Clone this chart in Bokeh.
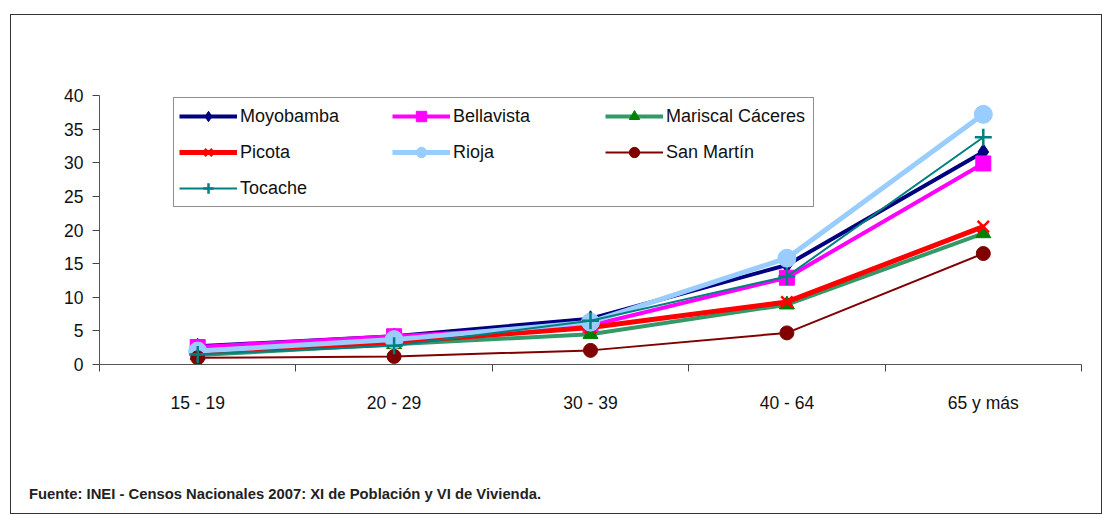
from bokeh.plotting import figure
from bokeh.models import FixedTicker, Range1d, Legend, LegendItem, Div
from bokeh.layouts import column
from bokeh.embed import file_html
from bokeh.resources import INLINE

categories = ["15 - 19", "20 - 29", "30 - 39", "40 - 64", "65 y más"]
moyobamba = [2.7, 4.2, 6.8, 14.8, 31.6]
bellavista = [2.6, 4.2, 5.8, 12.9, 29.9]
mariscal = [1.4, 3.0, 4.5, 8.9, 19.5]
picota = [1.9, 3.3, 5.5, 9.3, 20.5]
rioja = [2.0, 3.7, 6.3, 15.8, 37.2]
san_martin = [1.0, 1.2, 2.1, 4.7, 16.5]
tocache = [1.5, 2.8, 6.5, 13.1, 33.8]
y_ticks = [0, 5, 10, 15, 20, 25, 30, 35, 40]
source_note = "Fuente: INEI - Censos Nacionales 2007: XI de Población y VI de Vivienda."

FONT = "Liberation Sans"

xs = [i + 0.5 for i in range(len(categories))]

p = figure(width=1090, height=400, output_backend="svg", toolbar_location=None,
           x_range=Range1d(0, len(categories)), y_range=Range1d(0, 40),
           min_border_left=88, min_border_right=20, min_border_top=80, min_border_bottom=49)
p.margin = 0
p.outline_line_color = None
p.grid.grid_line_color = None
p.background_fill_color = "white"
p.border_fill_color = "white"

p.xaxis.ticker = FixedTicker(ticks=xs, minor_ticks=list(range(len(categories) + 1)))
p.xaxis.major_label_overrides = {x: c for x, c in zip(xs, categories)}
p.xaxis.major_tick_line_color = None
p.xaxis.minor_tick_line_color = "#444444"
p.xaxis.minor_tick_out = 7
p.xaxis.minor_tick_in = 0
p.xaxis.major_label_standoff = 21
p.xaxis.axis_line_color = "#555555"

p.yaxis.ticker = FixedTicker(ticks=y_ticks)
p.yaxis.minor_tick_line_color = None
p.yaxis.major_tick_out = 7
p.yaxis.major_tick_in = 0
p.yaxis.major_tick_line_color = "#444444"
p.yaxis.axis_line_color = "#555555"
p.yaxis.major_label_standoff = 9

for ax in (p.xaxis, p.yaxis):
    ax.major_label_text_font = FONT
    ax.major_label_text_font_size = "17.5px"
    ax.major_label_text_color = "#111111"

series = [
    ("Moyobamba", moyobamba, "#000080", 4, "diamond", 16, "#000080"),
    ("Bellavista", bellavista, "#FF00FF", 4, "square", 15, "#FF00FF"),
    ("Mariscal Cáceres", mariscal, "#339966", 4, "triangle", 15, "#008000"),
    ("Picota", picota, "#FF0000", 5, "x", 16, "#FF0000"),
    ("Rioja", rioja, "#99CCFF", 5, "circle", 18, "#99CCFF"),
    ("San Martín", san_martin, "#800000", 2, "circle", 14, "#800000"),
    ("Tocache", tocache, "#008080", 2, "cross", 17, "#008080"),
]

items = []
for name, vals, lc, lw, marker, size, mc in series:
    r1 = p.line(xs, vals, line_color=lc, line_width=lw)
    if marker in ("x", "cross"):
        r2 = p.scatter(xs, vals, marker=marker, size=size, line_color=mc, line_width=2.5, fill_color=None)
    else:
        r2 = p.scatter(xs, vals, marker=marker, size=size, line_color=mc, fill_color=mc)
    items.append(LegendItem(label=name, renderers=[r1, r2]))

legend = Legend(items=items, location=(74, 157), orientation="horizontal", ncols=3,
                label_text_font=FONT, label_text_font_size="18px", label_text_color="#111111",
                glyph_width=58, glyph_height=26, label_width=142, label_standoff=3,
                spacing=10, padding=5, margin=0,
                border_line_color="#222222", border_line_width=1,
                background_fill_alpha=1.0)
p.add_layout(legend, "center")

note = Div(text=source_note, width=1060, height=20, margin=(69, 0, 9, 18),
           styles={"font-family": FONT, "font-weight": "bold", "font-size": "14.8px",
                   "color": "#222222", "line-height": "20px", "white-space": "nowrap"})

layout = column(p, note, spacing=0)
layout.margin = (14, 0, 0, 10)
layout.styles = {"border": "1px solid #333333", "background-color": "white"}

open("out.html", "w").write(file_html(layout, INLINE))
